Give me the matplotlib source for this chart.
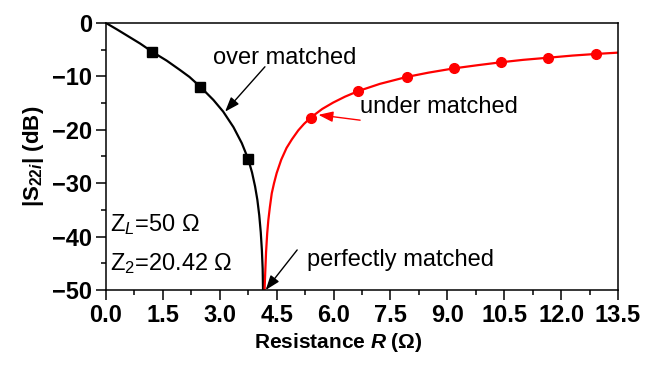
import matplotlib
matplotlib.use("Agg")
import matplotlib.pyplot as plt
from matplotlib.ticker import MultipleLocator

plt.rcParams['font.family'] = ['Liberation Sans', 'DejaVu Sans']
plt.rcParams['mathtext.fontset'] = 'custom'
plt.rcParams['mathtext.rm'] = 'Liberation Sans'
plt.rcParams['mathtext.bf'] = 'Liberation Sans:bold'
plt.rcParams['mathtext.it'] = 'Liberation Sans:bold:italic'
plt.rcParams['mathtext.sf'] = 'Liberation Sans:italic'

# over matched branch (black)
r_over = [0.0, 0.3, 0.6, 0.9, 1.22, 1.6, 1.95, 2.2, 2.48, 2.83, 3.09, 3.36, 3.58,
          3.75, 3.85, 3.93, 3.99, 4.04, 4.08, 4.11, 4.13, 4.14]
s_over = [0.0, -1.25, -2.55, -3.85, -5.4, -7.05, -8.8, -10.1, -11.9, -14.4, -16.6,
          -19.5, -22.5, -25.5, -28.0, -30.6, -33.1, -36.0, -39.2, -42.6, -46.0, -50.0]
r_over_mk = [1.22, 2.48, 3.75]
s_over_mk = [-5.4, -11.9, -25.5]

# under matched branch (red)
r_under = [4.18, 4.20, 4.22, 4.25, 4.28, 4.32, 4.37, 4.43, 4.50, 4.62, 4.76, 4.90,
           5.07, 5.22, 5.40, 5.70, 5.99, 6.3, 6.65, 7.22, 7.93, 8.5, 9.17, 9.8,
           10.42, 11.0, 11.66, 12.3, 12.91, 13.5]
s_under = [-50.0, -46.4, -42.9, -39.4, -36.9, -34.5, -31.9, -30.0, -28.1, -25.6,
           -23.4, -21.8, -20.1, -18.9, -17.7, -16.1, -14.9, -13.8, -12.75, -11.4,
           -10.1, -9.3, -8.5, -7.9, -7.35, -6.9, -6.5, -6.1, -5.8, -5.55]
r_under_mk = [5.40, 6.65, 7.93, 9.17, 10.42, 11.66, 12.91]
s_under_mk = [-17.7, -12.75, -10.1, -8.5, -7.35, -6.5, -5.8]

fig = plt.figure(figsize=(6.52, 3.68), dpi=100)
ax = fig.add_axes([0.1626, 0.212, 0.7853, 0.7255])

ax.plot(r_over, s_over, color='black', lw=1.6)
ax.plot(r_over_mk, s_over_mk, 's', color='black', ms=6.5)
ax.plot(r_under, s_under, color='red', lw=1.6)
ax.plot(r_under_mk, s_under_mk, 'o', color='red', ms=7)

ax.set_xlim(0, 13.5)
ax.set_ylim(-50, 0)
ax.xaxis.set_minor_locator(MultipleLocator(0.75))
ax.yaxis.set_major_locator(MultipleLocator(10))
ax.yaxis.set_minor_locator(MultipleLocator(5))
ax.set_xticks([i * 1.5 for i in range(10)])
ax.set_xticklabels(['0.0', '1.5', '3.0', '4.5', '6.0', '7.5', '9.0', '10.5', '12.0', '13.5'])
ax.tick_params(which='major', direction='out', length=7, width=1.1, labelsize=17, pad=3)
ax.tick_params(which='minor', direction='out', length=3.5, width=1.1)
for lab in ax.get_xticklabels() + ax.get_yticklabels():
    lab.set_fontweight('bold')
for sp in ax.spines.values():
    sp.set_linewidth(1.1)

ax.set_xlabel(r'Resistance $\mathit{R}$ (Ω)', fontsize=15, fontweight='bold')
ax.xaxis.set_label_coords(0.453, -0.198)
ax.xaxis.label.set_verticalalignment('center')
ax.set_ylabel(r'|S$_{\mathbf{22}\mathit{i}}$| (dB)', fontsize=16, fontweight='bold', labelpad=4)

head = '-|>,head_length=0.55,head_width=0.2'
ax.text(2.82, -6.6, 'over matched', fontsize=17, va='center', ha='left')
ax.annotate('', xy=(3.14, -16.6), xytext=(4.19, -8.2),
            arrowprops=dict(arrowstyle=head, color='black', lw=1, mutation_scale=16,
                            shrinkA=0, shrinkB=0))
ax.text(6.7, -15.8, 'under matched', fontsize=17, va='center', ha='left')
ax.annotate('', xy=(5.6, -17.2), xytext=(6.7, -18.2),
            arrowprops=dict(arrowstyle=head, color='red', lw=1, mutation_scale=16,
                            shrinkA=0, shrinkB=0))
ax.text(5.3, -44.4, 'perfectly matched', fontsize=17, va='center', ha='left')
ax.annotate('', xy=(4.21, -50.0), xytext=(5.04, -42.5), annotation_clip=False,
            arrowprops=dict(arrowstyle=head, color='black', lw=1, mutation_scale=16,
                            shrinkA=0, shrinkB=0))

ax.text(0.1, -37.8, r'Z$_{\mathsf{L}}$=50 Ω', fontsize=17, va='center', ha='left')
ax.text(0.1, -45.0, r'Z$_{\mathrm{2}}$=20.42 Ω', fontsize=17, va='center', ha='left')

fig.savefig('out.png', dpi=100)
